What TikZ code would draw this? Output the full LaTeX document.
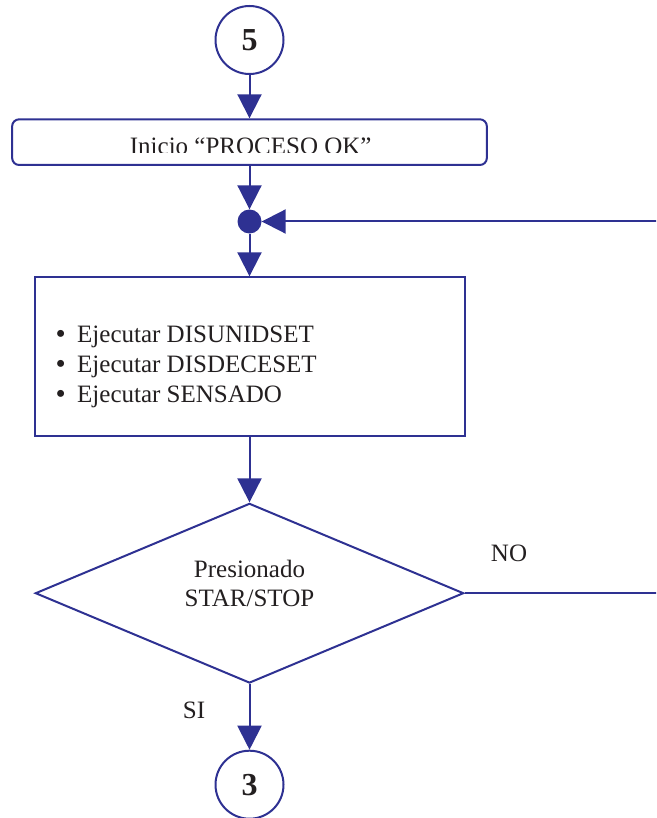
\documentclass[tikz,border=0pt]{standalone}
\usepackage{fontspec}
\setmainfont{Liberation Serif}
\usetikzlibrary{arrows.meta,shapes.geometric}
\definecolor{flowblue}{RGB}{46,49,146}
\definecolor{inkgray}{RGB}{35,31,32}
\begin{document}
\begin{tikzpicture}[x=1pt,y=-1pt,
  every node/.style={text=inkgray},
  line/.style={draw=flowblue,line width=2pt},
  flow/.style={line,-{Triangle[length=24pt,width=24pt]}},
  connector/.style={circle,draw=flowblue,line width=2pt,minimum size=68pt,inner sep=0pt,
    font=\fontsize{32}{32}\selectfont\bfseries},
  procbox/.style={rectangle,draw=flowblue,line width=2pt,inner sep=0pt},
  decision/.style={diamond,draw=flowblue,line width=2pt,inner sep=0pt,aspect=2.38},
  joint/.style={circle,fill=flowblue,inner sep=0pt,minimum size=24pt},
  txt/.style={font=\fontsize{25}{30}\selectfont,inner sep=0pt}]
  \useasboundingbox (0,0) rectangle (656,818);
  \clip (0,0) rectangle (656,818);

  % connectors and process blocks
  \node[connector] (c5) at (249.5,40) {\raisebox{-4pt}{5}};
  \node[procbox,rounded corners=7pt,minimum width=474.7pt,minimum height=45.7pt]
    (b1) at (249.5,142.15) {};
  \begin{scope}
    \clip (0,0) rectangle (656,152.8);
    \node[txt,anchor=base] (b1text) at (250.7,154.3) {Inicio “PROCESO OK”};
  \end{scope}
  \node[joint] (dot) at (249.5,221.5) {};
  \node[procbox,minimum width=430pt,minimum height=158.4pt] (b2) at (249.5,356.5) {};
  \node[txt,anchor=base west] (list) at (55.5,342.7) {%
    \begin{tabular}[t]{@{}l@{}}
      \makebox[21.5pt][l]{\fontsize{29}{30}\selectfont\raisebox{-1pt}{\textbullet}}Ejecutar DISUNIDSET\\
      \makebox[21.5pt][l]{\fontsize{29}{30}\selectfont\raisebox{-1pt}{\textbullet}}Ejecutar DISDECESET\\
      \makebox[21.5pt][l]{\fontsize{29}{30}\selectfont\raisebox{-1pt}{\textbullet}}Ejecutar SENSADO
    \end{tabular}};
  \node[decision,minimum width=428.3pt,minimum height=179.7pt] (d) at (249.5,593.2) {};
  \node[font=\fontsize{25}{29}\selectfont,inner sep=0pt,anchor=base] (dtext) at (249.5,577) {%
    \begin{tabular}[t]{@{}c@{}}Presionado\\STAR/STOP\end{tabular}};
  \node[connector] (c3) at (249.5,784.7) {3};

  % branch labels
  \node[txt,anchor=base] (no) at (509,561.7) {NO};
  \node[txt,anchor=base] (si) at (194,718.3) {SI};

  % flow lines
  \coordinate (ret) at (700,0);
  \draw[flow] (c5.south) -- (b1.north);
  \draw[flow] (b1.south) -- (dot.north);
  \draw[flow] (dot.south) -- (b2.north);
  \draw[flow] (b2.south) -- (d.north);
  \draw[flow] (d.south) -- (c3.north);
  \draw[flow] (d.east) -- (d.east -| ret) |- (dot.east);
\end{tikzpicture}
\end{document}
